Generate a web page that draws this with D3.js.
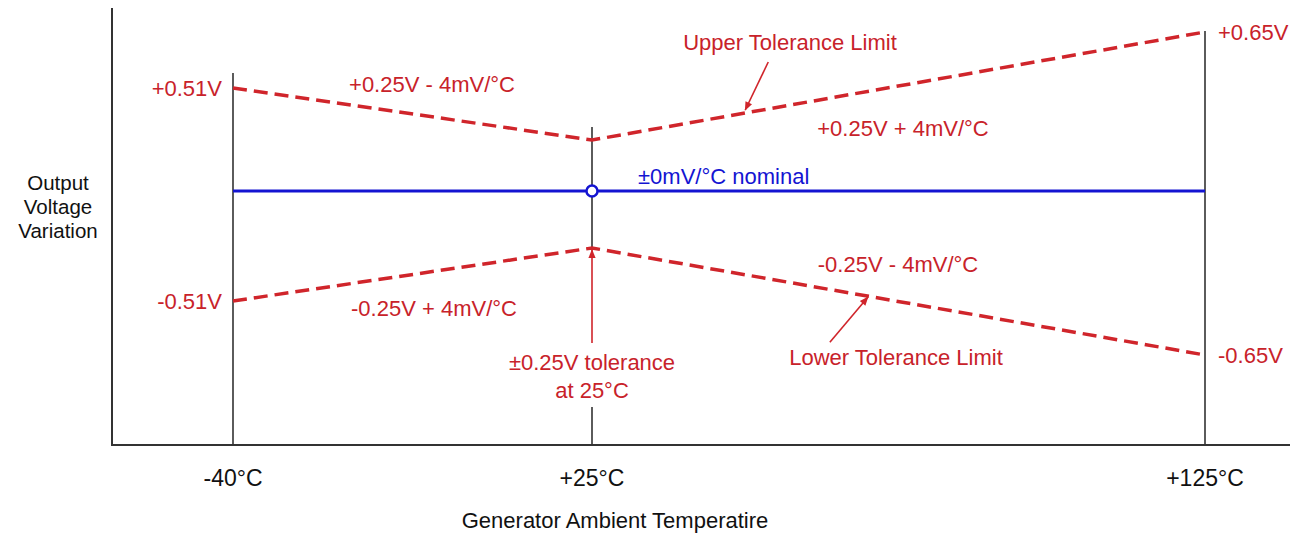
<!DOCTYPE html>
<html>
<head>
<meta charset="utf-8">
<script src="https://cdn.jsdelivr.net/npm/d3@7"></script>
<style>
  html, body { margin: 0; padding: 0; background: #ffffff; }
  svg { display: block; font-family: "Liberation Sans", Arial, sans-serif; }
</style>
</head>
<body>
<svg id="chart" width="1308" height="533"></svg>
<script>
// temperatures (°C) at the three guide lines
const temps = [-40, 25, 125];
const tempLabels = ["-40°C", "+25°C", "+125°C"];

// tolerance limits (V) at each temperature
const upperLimit = [0.51, 0.25, 0.65];
const lowerLimit = [-0.51, -0.25, -0.65];
const nominal = [0, 0, 0];

const upperLabels = ["+0.51V", null, "+0.65V"];
const lowerLabels = ["-0.51V", null, "-0.65V"];
const slopeLabels = ["+0.25V - 4mV/°C", "+0.25V + 4mV/°C", "-0.25V + 4mV/°C", "-0.25V - 4mV/°C"];

const RED = "#d0252b";
const RED_TEXT = "#c8222a";
const BLUE = "#1414d2";
const INK = "#333333";

const svg = d3.select("#chart");

// schematic, so scales are piecewise between the marked points
const x = d3.scaleLinear().domain([-62, -40, 25, 125]).range([112, 233, 592, 1205]);
const y = d3.scaleLinear()
  .domain([-0.65, -0.51, -0.25, 0, 0.25, 0.51, 0.65])
  .range([355, 301, 248, 191, 140, 88, 32]);

const axisY = 445;
const axisX = x(-62);

// upper / lower points in pixel space
const upPts = temps.map((t, i) => [x(t), y(upperLimit[i])]);
const loPts = temps.map((t, i) => [x(t), y(lowerLimit[i])]);

// point on a drawn polyline at temperature t
function along(pts, t) {
  const seg = t <= temps[1] ? 0 : 1;
  const f = (t - temps[seg]) / (temps[seg + 1] - temps[seg]);
  return d3.interpolate(pts[seg], pts[seg + 1])(f);
}

const defs = svg.append("defs");
defs.append("marker")
  .attr("id", "head")
  .attr("viewBox", "0 0 10 10")
  .attr("refX", 9).attr("refY", 5)
  .attr("markerWidth", 11).attr("markerHeight", 9)
  .attr("markerUnits", "userSpaceOnUse")
  .attr("orient", "auto")
  .append("path")
  .attr("d", "M0,1 L10,5 L0,9 Z")
  .attr("fill", RED);

// axes
svg.append("line")
  .attr("x1", axisX).attr("x2", axisX).attr("y1", 8).attr("y2", axisY + 1)
  .attr("stroke", INK).attr("stroke-width", 2);
svg.append("line")
  .attr("x1", axisX - 1).attr("x2", 1290).attr("y1", axisY).attr("y2", axisY)
  .attr("stroke", INK).attr("stroke-width", 2);

// vertical guide lines
const guideTopPad = [15, 13, 1];
svg.append("g").selectAll("line")
  .data(temps)
  .join("line")
  .attr("x1", (d) => x(d)).attr("x2", (d) => x(d))
  .attr("y1", (d, i) => y(upperLimit[i]) - guideTopPad[i])
  .attr("y2", (d, i) => (i === 1 ? y(lowerLimit[1]) : axisY))
  .attr("stroke", INK).attr("stroke-width", 1.6);
// bottom stub of the 25°C guide below the annotation
svg.append("line")
  .attr("x1", x(25)).attr("x2", x(25)).attr("y1", 407).attr("y2", axisY)
  .attr("stroke", INK).attr("stroke-width", 1.6);

// nominal line
const line = d3.line().x((d) => d[0]).y((d) => d[1]);
svg.append("path")
  .attr("d", line(temps.map((t, i) => [x(t), y(nominal[i])])))
  .attr("fill", "none").attr("stroke", BLUE).attr("stroke-width", 3);

// tolerance limits
[upPts, loPts].forEach((pts) => {
  svg.append("path")
    .attr("d", line(pts))
    .attr("fill", "none")
    .attr("stroke", RED)
    .attr("stroke-width", 3.5)
    .attr("stroke-dasharray", "14,7");
});

svg.append("circle")
  .attr("cx", x(25)).attr("cy", y(0)).attr("r", 5.5)
  .attr("fill", "#ffffff").attr("stroke", BLUE).attr("stroke-width", 2.5);

// annotation arrows
const upHead = along(upPts, 50);
const loHead = along(loPts, 70);
const arrows = [
  { from: [upHead[0] + 23, upHead[1] - 51], to: [upHead[0], upHead[1] - 3] },
  { from: [loHead[0] - 38, loHead[1] + 46], to: [loHead[0], loHead[1] + 1] },
  { from: [x(25), 343], to: [x(25), y(lowerLimit[1]) + 2] },
];
svg.append("g").selectAll("line")
  .data(arrows)
  .join("line")
  .attr("x1", (d) => d.from[0]).attr("y1", (d) => d.from[1])
  .attr("x2", (d) => d.to[0]).attr("y2", (d) => d.to[1])
  .attr("stroke", RED).attr("stroke-width", 1.6)
  .attr("marker-end", "url(#head)");

// value labels
const valueText = svg.append("g")
  .attr("fill", RED_TEXT)
  .style("font-size", "22px");

temps.forEach((t, i) => {
  if (upperLabels[i]) {
    const left = i === 0;
    valueText.append("text")
      .attr("x", left ? x(t) - 11 : x(t) + 13)
      .attr("y", y(upperLimit[i]))
      .attr("dy", "0.35em")
      .attr("text-anchor", left ? "end" : "start")
      .text(upperLabels[i]);
    valueText.append("text")
      .attr("x", left ? x(t) - 11 : x(t) + 13)
      .attr("y", y(lowerLimit[i]))
      .attr("dy", "0.35em")
      .attr("text-anchor", left ? "end" : "start")
      .text(lowerLabels[i]);
  }
});

const slopePos = [[432, 84], [903, 128], [434, 308], [898, 264]];
valueText.selectAll("text.slope")
  .data(slopeLabels)
  .join("text")
  .attr("class", "slope")
  .attr("x", (d, i) => slopePos[i][0])
  .attr("y", (d, i) => slopePos[i][1])
  .attr("dy", "0.35em")
  .attr("text-anchor", "middle")
  .text((d) => d);

valueText.append("text")
  .attr("x", 790).attr("y", 42).attr("dy", "0.35em")
  .attr("text-anchor", "middle")
  .text("Upper Tolerance Limit");
valueText.append("text")
  .attr("x", 896).attr("y", 357).attr("dy", "0.35em")
  .attr("text-anchor", "middle")
  .text("Lower Tolerance Limit");
valueText.append("text")
  .attr("x", x(25)).attr("y", 362).attr("dy", "0.35em")
  .attr("text-anchor", "middle")
  .text("±0.25V tolerance");
valueText.append("text")
  .attr("x", x(25)).attr("y", 390).attr("dy", "0.35em")
  .attr("text-anchor", "middle")
  .text("at 25°C");

svg.append("text")
  .attr("x", 638).attr("y", 176).attr("dy", "0.35em")
  .attr("fill", BLUE)
  .style("font-size", "22px")
  .text("±0mV/°C nominal");

// x tick labels
svg.append("g").selectAll("text")
  .data(temps)
  .join("text")
  .attr("x", (d) => x(d))
  .attr("y", 478).attr("dy", "0.35em")
  .attr("text-anchor", "middle")
  .attr("fill", "#111111")
  .style("font-size", "23px")
  .text((d, i) => tempLabels[i]);

svg.append("text")
  .attr("x", 615).attr("y", 520).attr("dy", "0.35em")
  .attr("text-anchor", "middle")
  .attr("fill", "#111111")
  .style("font-size", "22px")
  .text("Generator Ambient Temperatire");

// y axis title
svg.append("text")
  .attr("x", 58).attr("y", 183)
  .attr("text-anchor", "middle")
  .attr("fill", "#111111")
  .style("font-size", "20.5px")
  .selectAll("tspan")
  .data(["Output", "Voltage", "Variation"])
  .join("tspan")
  .attr("x", 58)
  .attr("dy", (d, i) => (i === 0 ? "0.35em" : "24px"))
  .text((d) => d);
</script>
</body>
</html>
